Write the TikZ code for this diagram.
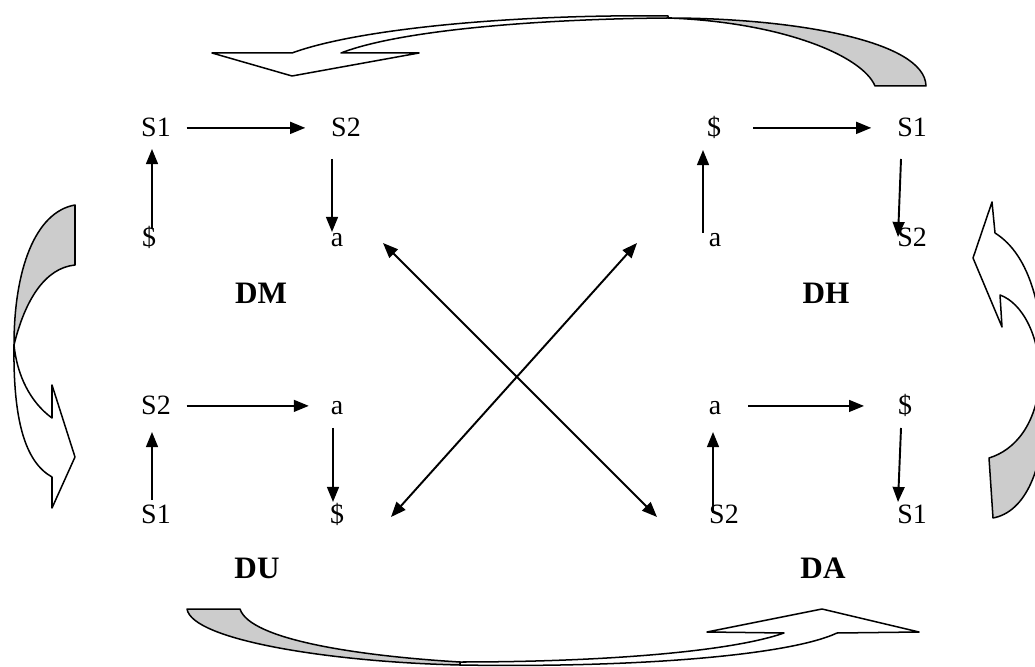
\documentclass[tikz,border=0pt]{standalone}
\usepackage{fontspec}
\setmainfont{Liberation Serif}
\usepackage{tikz}
\usetikzlibrary{arrows.meta, calc}
\definecolor{ribbongray}{RGB}{204,204,204}

\begin{document}
\begin{tikzpicture}[x=0.465pt, y=-0.465pt, line width=0.9pt,
    lbl/.style={inner sep=0pt, anchor=base, font=\fontsize{13}{15}\selectfont},
    grp/.style={inner sep=0pt, font=\fontsize{14.5}{17}\selectfont\bfseries},
    arr/.style={-{Triangle[length=7pt, width=5.5pt]}},
    dbl/.style={{Triangle[length=7pt, width=5.5pt]}-{Triangle[length=7pt, width=5.5pt]}},
    ribbon/.style={draw=black, line width=0.7pt, line join=round}]
    \useasboundingbox (0,0) rectangle (1035,667);
    \clip (0,0) rectangle (1035,667);

    \node[lbl] (dmA) at (156,137) {S1};
    \node[lbl] (dmB) at (346,137) {S2};
    \node[lbl] (dmD) at (149,247) {\$};
    \node[lbl] (dmC) at (337,247) {a};
    \node[grp] (dm) at (261,293) {DM};

    \node[lbl] (dhA) at (714,137) {\$};
    \node[lbl] (dhB) at (912,137) {S1};
    \node[lbl] (dhD) at (715,247) {a};
    \node[lbl] (dhC) at (912,247) {S2};
    \node[grp] (dh) at (826,293) {DH};

    \node[lbl] (duA) at (156,415) {S2};
    \node[lbl] (duB) at (337,415) {a};
    \node[lbl] (duD) at (156,523) {S1};
    \node[lbl] (duC) at (337,523) {\$};
    \node[grp] (du) at (257,568) {DU};

    \node[lbl] (daA) at (715,415) {a};
    \node[lbl] (daB) at (905,415) {\$};
    \node[lbl] (daD) at (724,523) {S2};
    \node[lbl] (daC) at (912,523) {S1};
    \node[grp] (da) at (823,568) {DA};

    \draw[arr] ($(dmA.east)+(15,0)$) -- ($(dmB.west)+(-25,0)$);
    \draw[arr] ($(dmD.base)+(3,-19)$) -- ($(dmA.base)+(-4,12)$);
    \draw[arr] ($(dmB.base)+(-14,22)$) -- ($(dmC.base)+(-5,-15)$);

    \draw[arr] ($(dhA.base |- dhB.east)+(39,0)$) -- ($(dhB.west)+(-25,0)$);
    \draw[arr] ($(dhD.base)+(-12,-14)$) -- ($(dhA.base)+(-11,13)$);
    \draw[arr] ($(dhB.base)+(-11,22)$) -- ($(dhC.base)+(-14,-10)$);

    \draw[arr] ($(duA.east)+(15,0)$) -- ($(duB.west |- duA.east)+(-21,0)$);
    \draw[arr] ($(duD.base)+(-4,-23)$) -- ($(duA.base)+(-4,17)$);
    \draw[arr] ($(duB.base)+(-4,13)$) -- ($(duC.base)+(-4,-21)$);

    \draw[arr] ($(daA.base |- daB.east)+(33,0)$) -- ($(daB.west)+(-33,0)$);
    \draw[arr] ($(daD.base)+(-11,-10)$) -- ($(daA.base)+(-2,17)$);
    \draw[arr] ($(daB.base)+(-4,13)$) -- ($(daC.base)+(-14,-21)$);

    \draw[dbl] ($(dmC.base)+(46,-4)$) -- ($(daD.base)+(-67,-6)$);
    \draw[dbl] ($(dhD.base)+(-78,-4)$) -- ($(duC.base)+(54,-6)$);

    \filldraw[ribbon, fill=ribbongray] (926,86) -- (875,86)
        .. controls (862,55) and (780,22) .. (668,18)
        .. controls (790,18) and (925,40) .. (926,86) -- cycle;
    \filldraw[ribbon, fill=white] (668,16) .. controls (520,14) and (360,28) .. (292,53)
        -- (212,53) -- (292,76) -- (419,53) -- (341,53)
        .. controls (400,30) and (540,19) .. (668,18) -- cycle;

    \filldraw[ribbon, fill=ribbongray] (187,609) -- (240,609)
        .. controls (250,640) and (360,656) .. (460,662)
        -- (460,665) .. controls (330,662) and (192,640) .. (187,609) -- cycle;
    \filldraw[ribbon, fill=white] (460,665) .. controls (640,668) and (790,655) .. (837,633)
        -- (919,632) -- (822,609) -- (707,632) -- (784,633)
        .. controls (730,652) and (600,662) .. (460,662) -- cycle;

    \filldraw[ribbon, fill=ribbongray] (75,205) -- (75,265)
        .. controls (45,268) and (25,300) .. (14,345)
        .. controls (14,270) and (35,212) .. (75,205) -- cycle;
    \filldraw[ribbon, fill=white] (14,345) .. controls (13,420) and (25,462) .. (52,477)
        -- (52,508) -- (75,457) -- (52,385) -- (52,418)
        .. controls (30,402) and (17,375) .. (14,345) -- cycle;

    \filldraw[ribbon, fill=ribbongray] (989,458) -- (993,518)
        .. controls (1025,512) and (1045,470) .. (1045,400) -- (1040,380)
        .. controls (1036,425) and (1015,450) .. (989,458) -- cycle;
    \filldraw[ribbon, fill=white] (1045,400) .. controls (1046,310) and (1030,255) .. (995,233)
        -- (992,202) -- (973,258) -- (1002,327) -- (1000,295)
        .. controls (1022,303) and (1040,335) .. (1040,380) -- cycle;
\end{tikzpicture}
\end{document}
